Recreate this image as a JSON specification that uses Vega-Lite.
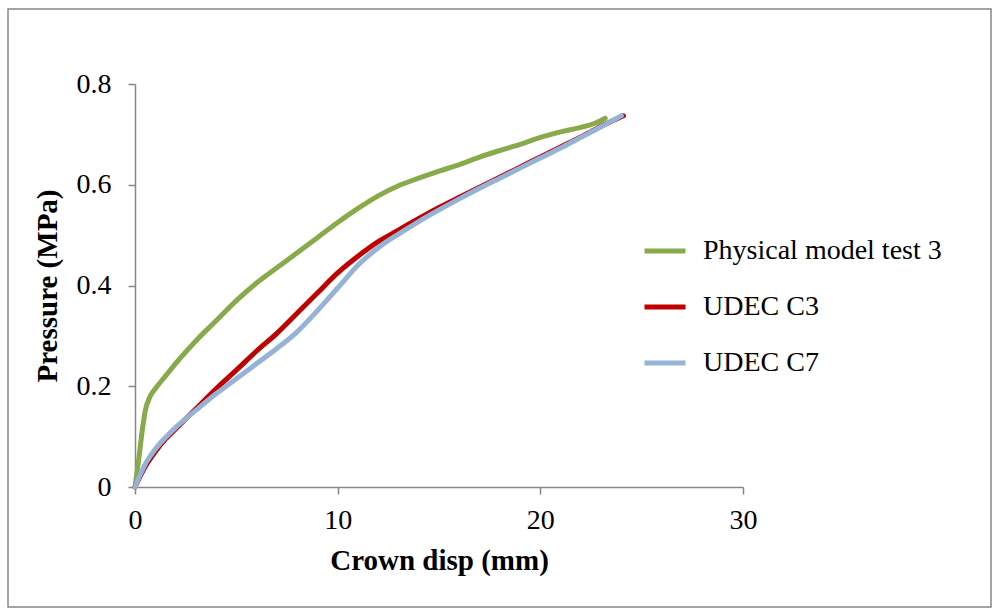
{
  "$schema": "https://vega.github.io/schema/vega-lite/v6.json",
  "width": 983,
  "height": 598,
  "autosize": {"type": "none"},
  "padding": {"left": 8, "top": 9, "right": 1, "bottom": 1},
  "background": "white",
  "config": {
    "view": {"stroke": "#868686", "strokeWidth": 1.5},
    "font": "Liberation Serif",
    "axis": {
      "domainColor": "#868686",
      "domainWidth": 1.5,
      "tickColor": "#868686",
      "tickWidth": 1.5,
      "tickSize": 7,
      "grid": false,
      "labelFlush": false,
      "labelOverlap": false,
      "labelFont": "Liberation Serif",
      "labelFontSize": 28,
      "labelColor": "black",
      "titleFont": "Liberation Serif",
      "titleFontSize": 29,
      "titleFontWeight": "bold",
      "titleColor": "black"
    },
    "legend": {
      "labelFont": "Liberation Serif",
      "labelFontSize": 28,
      "labelColor": "black",
      "labelLimit": 500
    }
  },
  "data": {
    "values": [
      {"s": "Physical model test 3", "x": 0, "y": 0},
      {"s": "Physical model test 3", "x": 0.1, "y": 0.03},
      {"s": "Physical model test 3", "x": 0.2, "y": 0.06},
      {"s": "Physical model test 3", "x": 0.35, "y": 0.11},
      {"s": "Physical model test 3", "x": 0.5, "y": 0.15},
      {"s": "Physical model test 3", "x": 0.75, "y": 0.18},
      {"s": "Physical model test 3", "x": 1, "y": 0.195},
      {"s": "Physical model test 3", "x": 1.5, "y": 0.22},
      {"s": "Physical model test 3", "x": 2, "y": 0.245},
      {"s": "Physical model test 3", "x": 3, "y": 0.29},
      {"s": "Physical model test 3", "x": 4, "y": 0.33},
      {"s": "Physical model test 3", "x": 5, "y": 0.37},
      {"s": "Physical model test 3", "x": 6, "y": 0.405},
      {"s": "Physical model test 3", "x": 7, "y": 0.435},
      {"s": "Physical model test 3", "x": 8, "y": 0.465},
      {"s": "Physical model test 3", "x": 9, "y": 0.495},
      {"s": "Physical model test 3", "x": 10, "y": 0.525},
      {"s": "Physical model test 3", "x": 11, "y": 0.553},
      {"s": "Physical model test 3", "x": 12, "y": 0.578},
      {"s": "Physical model test 3", "x": 13, "y": 0.598},
      {"s": "Physical model test 3", "x": 14, "y": 0.613},
      {"s": "Physical model test 3", "x": 15, "y": 0.627},
      {"s": "Physical model test 3", "x": 16, "y": 0.64},
      {"s": "Physical model test 3", "x": 17, "y": 0.655},
      {"s": "Physical model test 3", "x": 18, "y": 0.668},
      {"s": "Physical model test 3", "x": 19, "y": 0.68},
      {"s": "Physical model test 3", "x": 20, "y": 0.694},
      {"s": "Physical model test 3", "x": 21, "y": 0.705},
      {"s": "Physical model test 3", "x": 22, "y": 0.714},
      {"s": "Physical model test 3", "x": 22.7, "y": 0.722},
      {"s": "Physical model test 3", "x": 23.2, "y": 0.732},
      {"s": "UDEC C3", "x": 0, "y": 0},
      {"s": "UDEC C3", "x": 0.5, "y": 0.04},
      {"s": "UDEC C3", "x": 1, "y": 0.07},
      {"s": "UDEC C3", "x": 1.5, "y": 0.095},
      {"s": "UDEC C3", "x": 2, "y": 0.115},
      {"s": "UDEC C3", "x": 3, "y": 0.155},
      {"s": "UDEC C3", "x": 4, "y": 0.195},
      {"s": "UDEC C3", "x": 5, "y": 0.232},
      {"s": "UDEC C3", "x": 6, "y": 0.27},
      {"s": "UDEC C3", "x": 7, "y": 0.305},
      {"s": "UDEC C3", "x": 8, "y": 0.345},
      {"s": "UDEC C3", "x": 9, "y": 0.385},
      {"s": "UDEC C3", "x": 10, "y": 0.425},
      {"s": "UDEC C3", "x": 11, "y": 0.458},
      {"s": "UDEC C3", "x": 12, "y": 0.487},
      {"s": "UDEC C3", "x": 13, "y": 0.51},
      {"s": "UDEC C3", "x": 14, "y": 0.533},
      {"s": "UDEC C3", "x": 15, "y": 0.555},
      {"s": "UDEC C3", "x": 16, "y": 0.575},
      {"s": "UDEC C3", "x": 17, "y": 0.595},
      {"s": "UDEC C3", "x": 18, "y": 0.615},
      {"s": "UDEC C3", "x": 19, "y": 0.635},
      {"s": "UDEC C3", "x": 20, "y": 0.655},
      {"s": "UDEC C3", "x": 21, "y": 0.675},
      {"s": "UDEC C3", "x": 22, "y": 0.695},
      {"s": "UDEC C3", "x": 23, "y": 0.716},
      {"s": "UDEC C3", "x": 24.1, "y": 0.737},
      {"s": "UDEC C7", "x": 0, "y": 0},
      {"s": "UDEC C7", "x": 0.5, "y": 0.045},
      {"s": "UDEC C7", "x": 1, "y": 0.075},
      {"s": "UDEC C7", "x": 1.5, "y": 0.098},
      {"s": "UDEC C7", "x": 2, "y": 0.118},
      {"s": "UDEC C7", "x": 3, "y": 0.152},
      {"s": "UDEC C7", "x": 4, "y": 0.185},
      {"s": "UDEC C7", "x": 5, "y": 0.215},
      {"s": "UDEC C7", "x": 6, "y": 0.245},
      {"s": "UDEC C7", "x": 7, "y": 0.275},
      {"s": "UDEC C7", "x": 8, "y": 0.308},
      {"s": "UDEC C7", "x": 9, "y": 0.35},
      {"s": "UDEC C7", "x": 10, "y": 0.395},
      {"s": "UDEC C7", "x": 11, "y": 0.44},
      {"s": "UDEC C7", "x": 12, "y": 0.475},
      {"s": "UDEC C7", "x": 13, "y": 0.502},
      {"s": "UDEC C7", "x": 14, "y": 0.527},
      {"s": "UDEC C7", "x": 15, "y": 0.55},
      {"s": "UDEC C7", "x": 16, "y": 0.572},
      {"s": "UDEC C7", "x": 17, "y": 0.593},
      {"s": "UDEC C7", "x": 18, "y": 0.613},
      {"s": "UDEC C7", "x": 19, "y": 0.633},
      {"s": "UDEC C7", "x": 20, "y": 0.653},
      {"s": "UDEC C7", "x": 21, "y": 0.673},
      {"s": "UDEC C7", "x": 22, "y": 0.694},
      {"s": "UDEC C7", "x": 23, "y": 0.715},
      {"s": "UDEC C7", "x": 24, "y": 0.737}
    ]
  },
  "mark": {"type": "line", "strokeWidth": 5, "interpolate": "monotone", "strokeCap": "round"},
  "encoding": {
    "x": {
      "field": "x",
      "type": "quantitative",
      "scale": {"domain": [0, 30], "range": [127, 735], "nice": false},
      "axis": {
        "title": "Crown disp (mm)",
        "values": [0, 10, 20, 30],
        "offset": -120,
        "labelPadding": 12,
        "titlePadding": 12
      }
    },
    "y": {
      "field": "y",
      "type": "quantitative",
      "scale": {"domain": [0, 0.8], "range": [478, 75], "nice": false},
      "axis": {
        "title": "Pressure (MPa)",
        "values": [0, 0.2, 0.4, 0.6, 0.8],
        "format": ".1~f",
        "offset": -127,
        "labelPadding": 17,
        "titlePadding": 14
      }
    },
    "color": {
      "field": "s",
      "type": "nominal",
      "sort": ["Physical model test 3", "UDEC C3", "UDEC C7"],
      "scale": {
        "domain": ["Physical model test 3", "UDEC C3", "UDEC C7"],
        "range": ["#89AA4B", "#C00000", "#95B3D7"]
      },
      "legend": {
        "title": null,
        "orient": "none",
        "legendX": 634,
        "legendY": 219,
        "symbolType": "stroke",
        "symbolSize": 1681,
        "symbolStrokeWidth": 5,
        "labelOffset": 15,
        "rowPadding": 19,
        "padding": 0
      }
    }
  }
}
